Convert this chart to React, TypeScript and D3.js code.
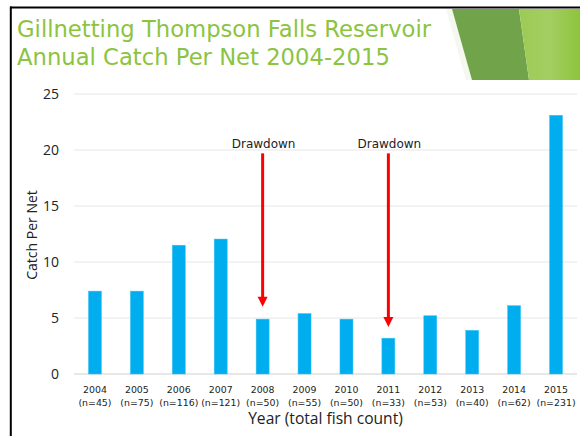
import React from "react";
import * as d3 from "d3";

const years = ["2004","2005","2006","2007","2008","2009","2010","2011","2012","2013","2014","2015"];
const counts = [45,75,116,121,50,55,50,33,53,40,62,231];
const catchPerNet = [7.4,7.4,11.5,12.05,4.9,5.4,4.9,3.2,5.2,3.9,6.1,23.1];
const yTicks = [0,5,10,15,20,25];
const drawdownYears = ["2008","2011"];
const arrowStart = [19.7,19.7];
const arrowEnd = [6.0,4.2];
const titleLines = ["Gillnetting Thompson Falls Reservoir", "Annual Catch Per Net 2004-2015"];

const W = 580, H = 436;

export default function App() {
  const x = d3.scaleBand<string>().domain(years).range([74, 577]).paddingInner(0.69).paddingOuter(0.345);
  const y = d3.scaleLinear().domain([0, 25]).range([374, 94]);
  const green = "#8CC43F";
  return (
    <div style={{ position: "fixed", left: 0, top: 0 }}>
      <svg width={W} height={H} style={{ display: "block", background: "#fff" }}>
        {/* top-right decoration */}
        <polygon points="446,9 452,9 472,80 466,80" fill="#f4f8ee" />
        <polygon points="452,9 519,9 529,80 472,80" fill="#71A44A" />
        <defs>
          <linearGradient id="lg" x1="0" x2="1" y1="0" y2="0">
            <stop offset="0" stopColor="#9CCB55" />
            <stop offset="0.5" stopColor="#A4CE62" />
            <stop offset="1" stopColor="#8DC43C" />
          </linearGradient>
        </defs>
        <polygon points="519,9 580,9 580,80 529,80" fill="url(#lg)" />
        {/* frame */}
        <line x1={10} x2={580} y1={7.5} y2={7.5} stroke="#000" strokeWidth={2} />
        <line x1={10.8} x2={10.8} y1={6.5} y2={436} stroke="#000" strokeWidth={2} />
        {/* title */}
        <text x={17} y={36.5} fontFamily="DejaVu Sans" fontSize={22.7} fill={green}>{titleLines[0]}</text>
        <text x={17} y={65} fontFamily="DejaVu Sans" fontSize={22.7} fill={green}>{titleLines[1]}</text>
        {/* gridlines */}
        {yTicks.filter(t => t > 0).map(t => (
          <line key={t} x1={74} x2={577} y1={y(t)} y2={y(t)} stroke="#E6E6E6" strokeWidth={1} />
        ))}
        <line x1={74} x2={577} y1={y(0)} y2={y(0)} stroke="#D0D0D0" strokeWidth={1} />
        {yTicks.map(t => (
          <text key={t} x={59} y={y(t)} dy="0.35em" textAnchor="end" fontFamily="Open Sans" fontSize={14} fill="#222">{t}</text>
        ))}
        <text transform={`translate(37,235) rotate(-90)`} textAnchor="middle" fontFamily="Open Sans" fontSize={14} fill="#222">Catch Per Net</text>
        {/* bars */}
        {years.map((yr, i) => (
          <rect key={yr} x={x(yr)} y={y(catchPerNet[i])} width={x.bandwidth()} height={y(0) - y(catchPerNet[i])} fill="#00AEEF" stroke="#3CC3F3" strokeWidth={0.5} />
        ))}
        {/* x labels */}
        {years.map((yr, i) => {
          const cx = (x(yr) as number) + x.bandwidth() / 2;
          return (
            <g key={yr} fontFamily="DejaVu Sans" fontSize={9.4} fill="#222" textAnchor="middle">
              <text x={cx} y={393.3}>{yr}</text>
              <text x={cx} y={405.5}>(n={counts[i]})</text>
            </g>
          );
        })}
        <text x={325.5} y={424} textAnchor="middle" fontFamily="Open Sans" fontSize={15.6} fill="#222">Year (total fish count)</text>
        {/* drawdown arrows */}
        {drawdownYears.map((yr, i) => {
          const cx = (x(yr) as number) + x.bandwidth() / 2;
          const y0 = y(arrowStart[i]);
          const y1 = y(arrowEnd[i]);
          return (
            <g key={yr}>
              <text x={cx + 1} y={147.5} textAnchor="middle" fontFamily="DejaVu Sans" fontSize={12} fill="#222">Drawdown</text>
              <line x1={cx} x2={cx} y1={y0} y2={y1 - 8} stroke="#FF0000" strokeWidth={3} />
              <polygon points={`${cx - 5},${y1 - 10} ${cx + 5},${y1 - 10} ${cx},${y1}`} fill="#FF0000" />
            </g>
          );
        })}
      </svg>
    </div>
  );
}
